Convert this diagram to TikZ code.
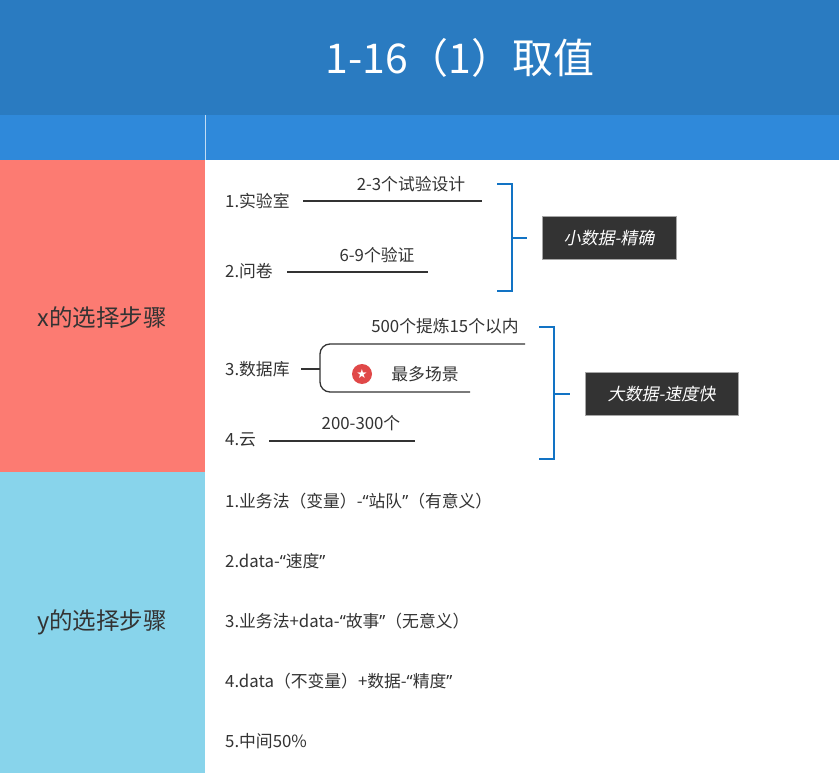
\documentclass[tikz,border=0pt]{standalone}
\usepackage{fontspec}
\setmainfont{Noto Sans CJK SC}
\newfontfamily\cjk{Noto Sans CJK SC}
\newfontfamily\cjkit[FakeSlant=0.2]{Noto Sans CJK SC}
\newfontfamily\symf{DejaVu Sans}
\newfontfamily\latq{Noto Sans}
\newcommand\myoq{{\latq “}}
\newcommand\mycq{{\latq ”}}
\definecolor{hdr}{HTML}{2A7BC1}
\definecolor{band}{HTML}{2F89DA}
\definecolor{salmon}{HTML}{FC7B72}
\definecolor{lblue}{HTML}{88D4EB}
\definecolor{brk}{HTML}{1273C4}
\definecolor{txt}{HTML}{333333}
\definecolor{boxf}{HTML}{333333}
\definecolor{starred}{HTML}{E04848}
\begin{document}
\begin{tikzpicture}[x=1pt,y=-1pt,
  item/.style={anchor=west,inner sep=0pt,text=txt,font=\cjk\fontsize{16.8}{19}\selectfont},
  lbl/.style={inner sep=0pt,text=txt,font=\cjk\fontsize{16.8}{19}\selectfont},
  conn/.style={draw=txt,line width=1.3pt},
  bracket/.style={draw=brk,line width=2.6pt},
  tagbox/.style={fill=boxf,draw=gray!70,line width=0.8pt,text=white,font=\cjkit\fontsize{17}{19}\selectfont,minimum height=43pt,inner xsep=0pt},
  side/.style={text=txt,font=\cjk\fontsize{23.5}{26}\selectfont}]
\useasboundingbox (0,0) rectangle (839,773);
% backgrounds
\fill[hdr] (0,0) rectangle (839,115);
\fill[band] (0,115) rectangle (839,160);
\draw[white!70!band,line width=0.6pt] (205,115) -- (205,160);
\fill[salmon] (0,160) rectangle (205,472);
\fill[lblue] (0,472) rectangle (205,773);
\fill[white] (205,160) rectangle (839,773);
% title
\node[text=white,font=\cjk\fontsize{41}{46}\selectfont] (title) at (460,58) {1-16（1）取值};
\node[side] (xsel) at (102,318) {x的选择步骤};
\node[side] (ysel) at (102,622) {y的选择步骤};
% x items
\node[item] (lab) at (225,201) {1.实验室};
\coordinate (labL) at (303,201); \coordinate (labR) at (482,201);
\draw[conn] (labL) -- (labR);
\node[lbl] (labt) at (411,184) {2-3个试验设计};
\node[item] (wj) at (225,271) {2.问卷};
\coordinate (wjL) at (287,272); \coordinate (wjR) at (428,272);
\draw[conn] (wjL) -- (wjR);
\node[lbl] (wjt) at (377,255) {6-9个验证};
% bracket 1
\coordinate (b1t) at (497,184); \coordinate (b1b) at (497,291);
\coordinate (b1m) at (512,238); \coordinate (b1e) at (527,238);
\draw[bracket] (b1t) -| (b1m) |- (b1b);
\draw[bracket] (b1m) -- (b1e);
\node[tagbox,minimum width=134pt] (small) at (609,238) {小数据-精确};
% database
\node[item] (db) at (225,369) {3.数据库};
\coordinate (dbs) at (301,369);
\coordinate (dbj) at (320,369);
\coordinate (dbtop) at (525,344); \coordinate (dbbot) at (470,392);
\draw[conn] (dbs) -- (dbj);
\draw[conn,rounded corners=10pt] (dbtop) -- (320,344) -- (320,392) -- (dbbot);
\node[lbl] (dbt) at (445,326) {500个提炼15个以内};
\node[circle,fill=starred,inner sep=0pt,minimum size=20pt] (star) at (362,374) {};
\node[text=white,font=\symf\fontsize{12.5}{12.5}\selectfont,inner sep=0pt] at (star) {★};
\node[lbl] (most) at (425,374) {最多场景};
% cloud
\node[item] (yun) at (225,440) {4.云};
\coordinate (yunL) at (269,441); \coordinate (yunR) at (415,441);
\draw[conn] (yunL) -- (yunR);
\node[lbl] (yunt) at (361,423) {200-300个};
% bracket 2
\coordinate (b2t) at (539,327); \coordinate (b2b) at (539,459);
\coordinate (b2m) at (554,394); \coordinate (b2e) at (570,394);
\draw[bracket] (b2t) -| (b2m) |- (b2b);
\draw[bracket] (b2m) -- (b2e);
\node[tagbox,minimum width=153pt] (big) at (661.5,394) {大数据-速度快};
% y items
\node[item] (y1) at (225,501) {1.业务法（变量）-\myoq 站队\mycq（有意义）};
\node[item] (y2) at (225,561) {2.data-\myoq 速度\mycq};
\node[item] (y3) at (225,621) {3.业务法+data-\myoq 故事\mycq（无意义）};
\node[item] (y4) at (225,681) {4.data（不变量）+数据-\myoq 精度\mycq};
\node[item] (y5) at (225,741) {5.中间50\%};
\end{tikzpicture}
\end{document}
